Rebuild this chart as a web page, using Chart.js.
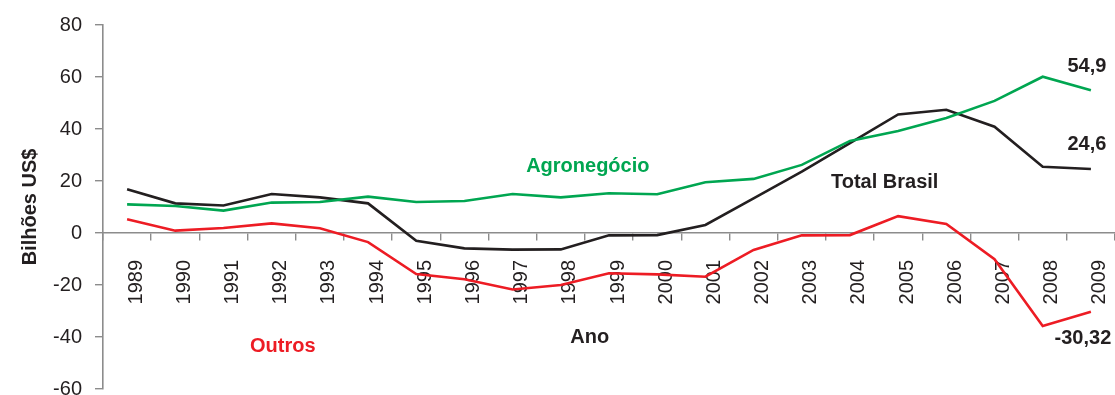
<!DOCTYPE html>
<html>
<head>
<meta charset="utf-8">
<script src="https://cdn.jsdelivr.net/npm/chart.js@4.4.1/dist/chart.umd.min.js"></script>
<style>
  html, body { margin: 0; padding: 0; background: #ffffff; }
  #wrap { width: 1115px; height: 395px; position: relative; }
</style>
</head>
<body>
<div id="wrap"><canvas id="chart" width="1115" height="395"></canvas></div>
<script>
// Saldo comercial (bilhões US$), 1989-2009
const anos = ['1989','1990','1991','1992','1993','1994','1995','1996','1997','1998','1999',
              '2000','2001','2002','2003','2004','2005','2006','2007','2008','2009'];
const agronegocio = [11.0, 10.4, 8.6, 11.7, 11.9, 14.0, 11.9, 12.3, 15.0, 13.7, 15.3,
                     14.9, 19.5, 20.8, 26.2, 35.4, 39.2, 44.2, 50.8, 60.1, 54.9];
const totalBrasil = [16.8, 11.4, 10.6, 15.0, 13.7, 11.4, -3.0, -5.9, -6.4, -6.3, -0.9,
                     -0.8, 3.1, 13.3, 23.6, 34.6, 45.6, 47.4, 40.9, 25.5, 24.6];
const outros = [5.3, 0.9, 1.9, 3.7, 1.8, -3.5, -15.8, -17.8, -21.7, -20.0, -15.5,
                -15.9, -16.8, -6.5, -0.9, -0.8, 6.5, 3.5, -10.1, -35.8, -30.32];
const yTicks = [-60, -40, -20, 0, 20, 40, 60, 80];

const COR_AGRO = '#00a651';
const COR_TOTAL = '#231f20';
const COR_OUTROS = '#ed1c24';
const COR_EIXO = '#8c8c8c';
const FONTE = '"Liberation Sans", Arial, sans-serif';

const fmt = v => String(v).replace('.', ',');

// Rótulos de séries, título do eixo x e valores finais
const textos = {
  id: 'textos',
  afterDatasetsDraw(chart) {
    const ctx = chart.ctx;
    const xs = chart.scales.x, ys = chart.scales.y;
    const last = anos.length - 1;
    const put = (txt, color, x, y, align) => {
      ctx.fillStyle = color;
      ctx.textAlign = align || 'center';
      ctx.textBaseline = 'alphabetic';
      ctx.fillText(txt, x, y);
    };
    ctx.save();
    ctx.font = 'bold 20px ' + FONTE;
    put('Agronegócio', COR_AGRO, xs.getPixelForValue(9.56), ys.getPixelForValue(23.5));
    put('Total Brasil', COR_TOTAL, xs.getPixelForValue(15.72), ys.getPixelForValue(17.3));
    put('Outros', COR_OUTROS, xs.getPixelForValue(3.23), ys.getPixelForValue(-45.8));
    put('Ano', COR_TOTAL, xs.getPixelForValue(9.6), ys.getPixelForValue(-42.3));

    const xl = xs.getPixelForValue(last);
    put(fmt(agronegocio[last]), COR_TOTAL, xl - 4, ys.getPixelForValue(agronegocio[last]) - 18);
    put(fmt(totalBrasil[last]), COR_TOTAL, xl - 4, ys.getPixelForValue(totalBrasil[last]) - 19);
    put(fmt(outros[last]), COR_TOTAL, xl - 8, ys.getPixelForValue(outros[last]) + 32);

    // título do eixo y
    ctx.translate(30, (chart.chartArea.top + chart.chartArea.bottom) / 2);
    ctx.rotate(-Math.PI / 2);
    ctx.textBaseline = 'middle';
    ctx.fillStyle = COR_TOTAL;
    ctx.textAlign = 'center';
    ctx.fillText('Bilhões US$', 0, 0);
    ctx.restore();
  }
};

new Chart(document.getElementById('chart'), {
  type: 'line',
  data: {
    labels: anos,
    datasets: [
      { label: 'Agronegócio', data: agronegocio, borderColor: COR_AGRO },
      { label: 'Total Brasil', data: totalBrasil, borderColor: COR_TOTAL },
      { label: 'Outros', data: outros, borderColor: COR_OUTROS }
    ]
  },
  options: {
    responsive: false,
    animation: false,
    events: [],
    layout: { padding: { left: 0, right: 0, top: 25, bottom: 6 } },
    elements: {
      line: { borderWidth: 2.6, tension: 0, fill: false },
      point: { radius: 0 }
    },
    plugins: { legend: { display: false }, tooltip: { enabled: false } },
    scales: {
      x: {
        type: 'category',
        position: { y: 0 },
        offset: true,
        afterFit(scale) { scale.paddingLeft = 0; scale.paddingRight = 0; },
        border: { display: true, color: COR_EIXO, width: 1.6 },
        grid: { offset: true, drawOnChartArea: false, color: COR_EIXO, tickLength: 7, lineWidth: 1.4 },
        ticks: {
          autoSkip: false, minRotation: 90, maxRotation: 90,
          padding: 20, labelOffset: 9,
          color: COR_TOTAL, font: { family: FONTE, size: 20 }
        }
      },
      y: {
        min: -60, max: 80,
        afterBuildTicks(scale) { scale.ticks = yTicks.map(v => ({ value: v })); },
        afterFit(scale) { scale.width = 103; scale.paddingTop = 0; scale.paddingBottom = 0; },
        border: { display: true, color: COR_EIXO, width: 1.6 },
        grid: { drawOnChartArea: false, color: COR_EIXO, tickLength: 8, lineWidth: 1.4 },
        ticks: { padding: 13, color: COR_TOTAL, font: { family: FONTE, size: 20 } }
      }
    }
  },
  plugins: [textos]
});
</script>
</body>
</html>
